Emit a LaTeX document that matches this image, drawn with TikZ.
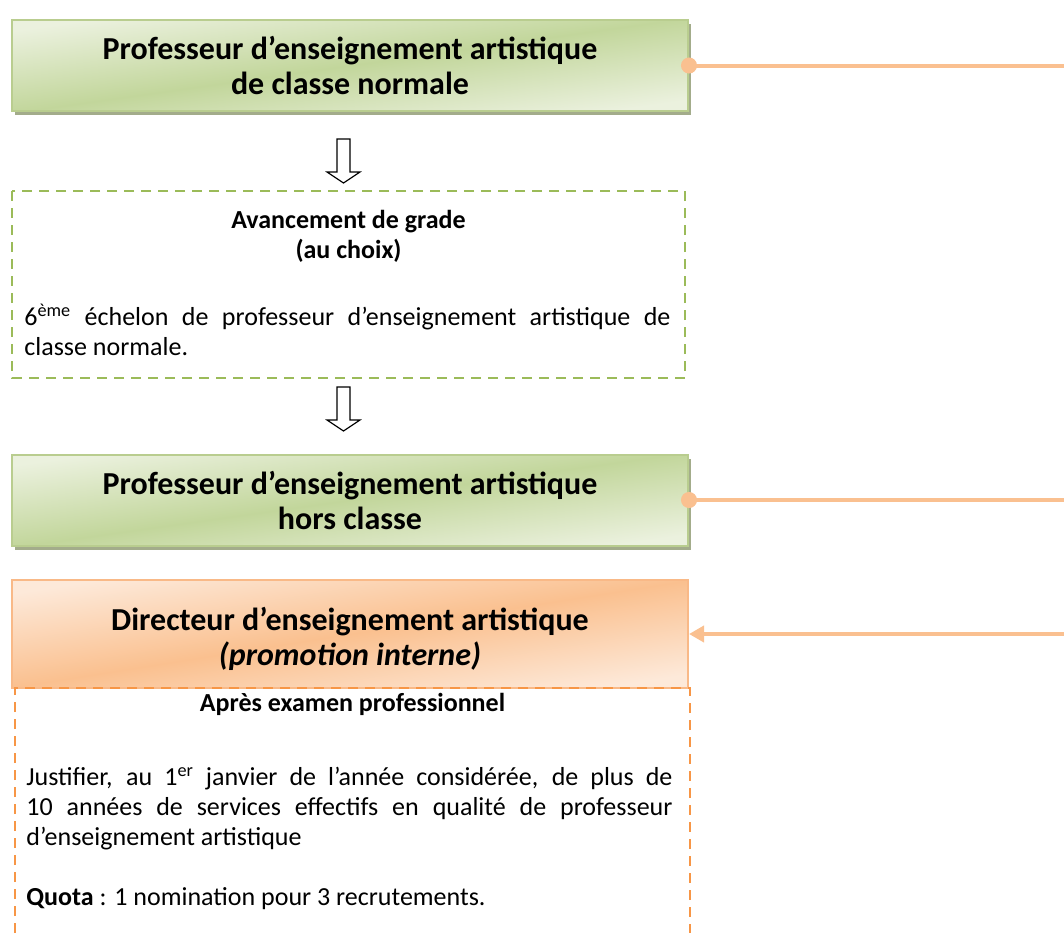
\documentclass[tikz,border=0pt]{standalone}
\usepackage{fontspec}
\setmainfont{Carlito}
\usetikzlibrary{arrows.meta,shadows}

\definecolor{greendark}{HTML}{C2D69B}
\definecolor{greenlight}{HTML}{EBF1DE}
\definecolor{greenedge}{HTML}{B9CD8F}
\definecolor{greenshadow}{HTML}{A3AC8B}
\definecolor{greendash}{HTML}{9BBB59}
\definecolor{orangelight}{HTML}{FDE9D9}
\definecolor{orangedark}{HTML}{FAC08F}
\definecolor{orangeedge}{HTML}{F9B987}
\definecolor{orangedash}{HTML}{F79646}
\definecolor{linkcolor}{HTML}{FAC090}

\newcommand{\firstline}{\rule{0pt}{11pt}}

\tikzset{
  gradebox/.style={draw=greenedge, line width=1pt, minimum width=338pt, minimum height=45.5pt,
    top color=greenlight, bottom color=greenlight, middle color=greendark, shading angle=8,
    drop shadow={shadow xshift=1.5pt, shadow yshift=-2pt, fill=greenshadow, opacity=1},
    align=center, font=\fontsize{16}{17.5}\selectfont\bfseries},
  promobox/.style={draw=orangeedge, line width=1pt, minimum width=338pt, minimum height=54pt,
    top color=orangelight, bottom color=orangelight, middle color=orangedark, shading angle=9,
    align=center, font=\fontsize{16}{17.5}\selectfont\bfseries},
  dashbox/.style={dash pattern=on 5pt off 3.5pt, line width=1pt},
  heading/.style={align=center, inner sep=0pt, anchor=north, font=\fontsize{13}{15}\selectfont\bfseries},
  bodytext/.style={align=justify, text width=323pt, inner sep=0pt, anchor=north west,
    font=\fontsize{13}{15}\selectfont},
  link/.style={draw=linkcolor, line width=2pt},
  downarrow/.pic={
    \draw[line width=0.6pt, fill=white] (-6.5,0) -- (6.5,0) -- (6.5,33) -- (16.5,33)
      -- (0,44) -- (-16.5,33) -- (-6.5,33) -- cycle;
  }
}

\begin{document}
\begin{tikzpicture}[x=0.5pt,y=-0.5pt]
\useasboundingbox (0,0) rectangle (1064,933);
\coordinate (edge) at (1064,0);

% les grades
\node[gradebox] (normale) at (350,65.5) {Professeur d’enseignement artistique\\de classe normale};
\node[gradebox] (horsclasse) at (350,500) {Professeur d’enseignement artistique\\hors classe};
\node[promobox] (directeur) at (350,634) {};
\node[align=center, font=\fontsize{16}{17.5}\selectfont\bfseries] (directeurtxt) at (350,639)
  {Directeur d’enseignement artistique\\\textit{(promotion interne)}};

% avancement de grade
\pic at (343.5,139) {downarrow};
\draw[dashbox, draw=greendash] (12,191) rectangle (685,378);
\node[heading] (avgrade) at (348.5,206) {\firstline Avancement de grade\\(au choix)};
\node[bodytext] (avcond) at (24,303)
  {\firstline 6\textsuperscript{ème} échelon de professeur d’enseignement artistique de\linebreak classe normale.};
\pic at (343.5,387) {downarrow};

% promotion interne
\coordinate (dl) at (15,933);
\coordinate (dr) at (690,933);
\draw[dashbox, draw=orangedash] (dl) -- (15,688) -- (690,688) -- (dr);
\node[heading] (examen) at (352.5,689) {\firstline Après examen professionnel};
\node[bodytext] (excond) at (26,763)
  {\firstline Justifier, au 1\textsuperscript{er} janvier de l’année considérée, de plus de\linebreak
  10 années de services effectifs en qualité de professeur\linebreak
  d’enseignement artistique\par\vspace{15pt}
  \textbf{Quota} : 1 nomination pour 3 recrutements.};

% liens vers la droite
\draw[link, {Circle[length=8pt]}-, shorten <=-4pt] (normale.east) -- (normale.east -| edge);
\draw[link, {Circle[length=8pt]}-, shorten <=-4pt] (horsclasse.east) -- (horsclasse.east -| edge);
\draw[link, {Triangle[length=7.5pt, width=8pt]}-] (directeur.east) -- (directeur.east -| edge);
\end{tikzpicture}
\end{document}
